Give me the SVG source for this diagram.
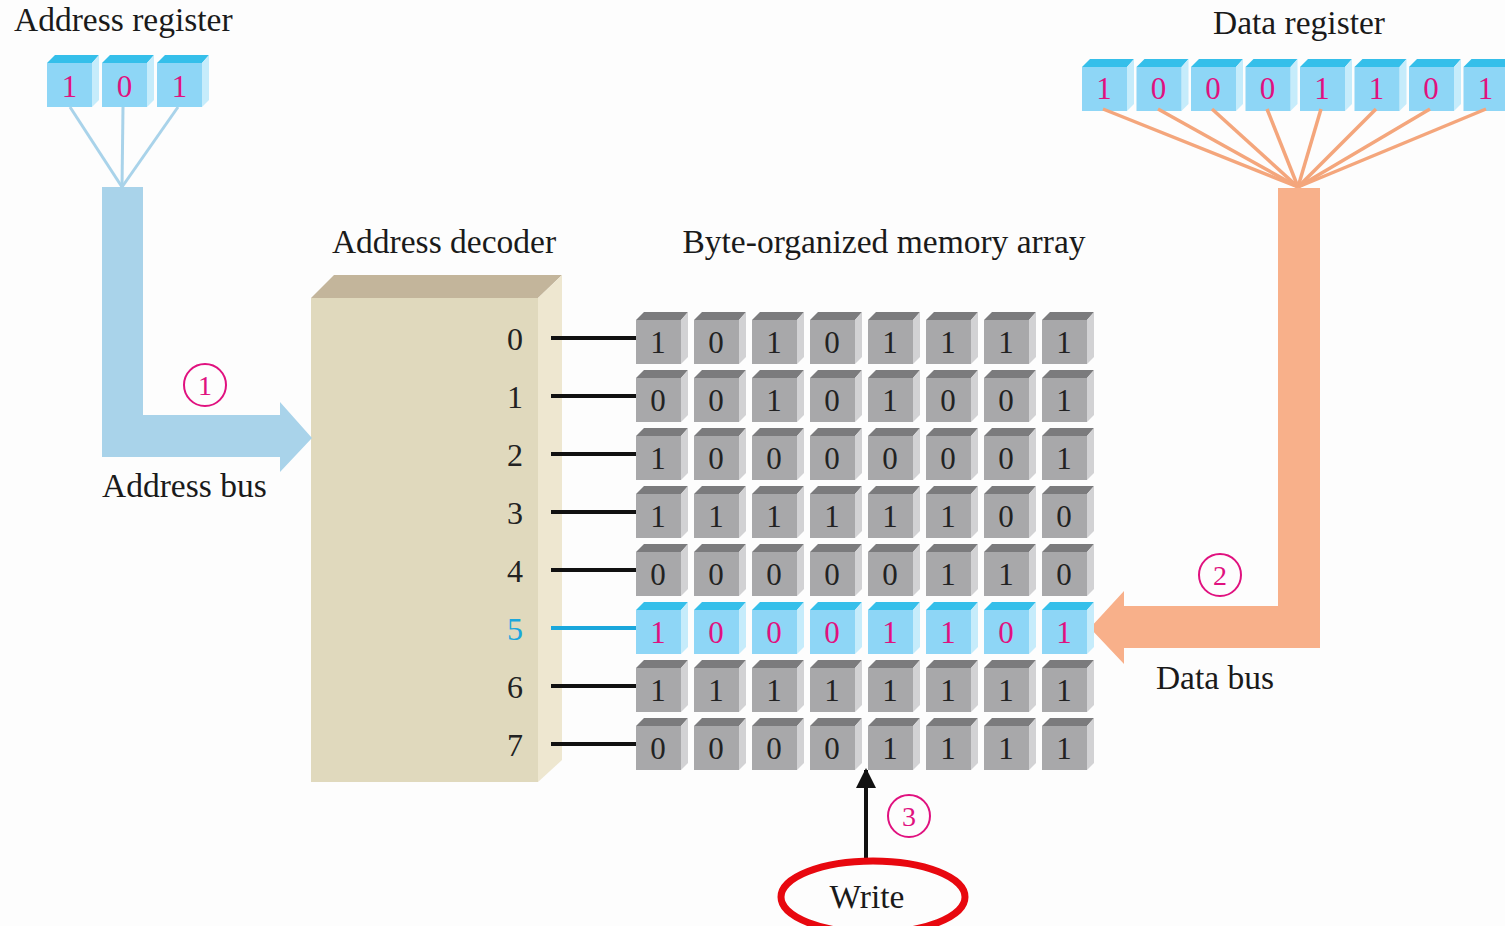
<svg xmlns="http://www.w3.org/2000/svg" xmlns:xlink="http://www.w3.org/1999/xlink" width="1505" height="926" viewBox="0 0 1505 926">
<style>
.t{font-family:"Liberation Serif","Times New Roman",serif;font-size:33.5px;fill:#1a1a1a}
.d{font-family:"Liberation Serif","Times New Roman",serif;font-size:31px;fill:#222;text-anchor:middle}
.m{fill:#e0117f}
.num{font-family:"Liberation Serif","Times New Roman",serif;font-size:28px;fill:#e0117f;text-anchor:middle}
.ring{fill:none;stroke:#e0117f;stroke-width:2}
.wl{stroke:#111;stroke-width:4}
</style>
<defs>
<g id="gc">
<polygon points="0,0 8,-8 52,-8 45,0" fill="#7b7b7d"/>
<polygon points="45,0 52,-8 52,37 45,44" fill="#d2d2d4"/>
<rect x="0" y="0" width="45" height="44" fill="#a8a8aa"/>
</g>
<g id="bc">
<polygon points="0,0 8,-8 52,-8 45,0" fill="#35bfea"/>
<polygon points="45,0 52,-8 52,37 45,44" fill="#c6ecfb"/>
<rect x="0" y="0" width="45" height="44" fill="#8ed6f6"/>
</g>
<marker id="ah" viewBox="0 0 10 10" refX="9" refY="5" markerWidth="5" markerHeight="5" orient="auto"><path d="M0,0 L10,5 L0,10 z" fill="#111"/></marker>
</defs>
<rect width="1505" height="926" fill="#fdfdfd"/>

<g id="address-register">
<text class="t" x="14" y="31">Address register</text>
<use xlink:href="#bc" x="47" y="63"/>
<use xlink:href="#bc" x="102" y="63"/>
<use xlink:href="#bc" x="157" y="63"/>
<text class="d m" x="69.5" y="97">1</text>
<text class="d m" x="124.5" y="97">0</text>
<text class="d m" x="179.5" y="97">1</text>
</g>

<g id="data-register">
<text class="t" x="1299" y="34" text-anchor="middle">Data register</text>
<use xlink:href="#bc" x="1082" y="67"/>
<use xlink:href="#bc" x="1136.5" y="67"/>
<use xlink:href="#bc" x="1191" y="67"/>
<use xlink:href="#bc" x="1245.5" y="67"/>
<use xlink:href="#bc" x="1300" y="67"/>
<use xlink:href="#bc" x="1354.5" y="67"/>
<use xlink:href="#bc" x="1409" y="67"/>
<use xlink:href="#bc" x="1463.5" y="67"/>
<g class="d m">
<text x="1104" y="99">1</text>
<text x="1158.5" y="99">0</text>
<text x="1213" y="99">0</text>
<text x="1267.5" y="99">0</text>
<text x="1322" y="99">1</text>
<text x="1376.5" y="99">1</text>
<text x="1431" y="99">0</text>
<text x="1485.5" y="99">1</text>
</g>
</g>

<g id="address-decoder">
<text class="t" x="444" y="253" text-anchor="middle">Address decoder</text>
<polygon points="311,298 334,275 562,275 538,298" fill="#c3b59b"/>
<polygon points="538,298 562,275 562,760 538,782" fill="#eee7d0"/>
<rect x="311" y="298" width="227" height="484" fill="#e0d9bd"/>
<g class="d" style="font-size:32px">
<text x="515" y="350">0</text>
<text x="515" y="408">1</text>
<text x="515" y="466">2</text>
<text x="515" y="524">3</text>
<text x="515" y="582">4</text>
<text x="515" y="640" fill="#1aa7dc">5</text>
<text x="515" y="698">6</text>
<text x="515" y="756">7</text>
</g>
</g>

<g id="connectors">
<g stroke="#a9d3ea" stroke-width="3">
<line x1="70" y1="107" x2="122" y2="187"/>
<line x1="123" y1="107" x2="122" y2="187"/>
<line x1="178" y1="107" x2="122" y2="187"/>
</g>
<g stroke="#f4a67c" stroke-width="3.5">
<line x1="1103" y1="109" x2="1298" y2="187"/>
<line x1="1158" y1="109" x2="1298" y2="187"/>
<line x1="1212" y1="109" x2="1298" y2="187"/>
<line x1="1267" y1="109" x2="1298" y2="187"/>
<line x1="1321" y1="109" x2="1298" y2="187"/>
<line x1="1376" y1="109" x2="1298" y2="187"/>
<line x1="1430" y1="109" x2="1298" y2="187"/>
<line x1="1486" y1="109" x2="1298" y2="187"/>
</g>
<polygon id="address-bus" points="102,187 143,187 143,415 280,415 280,402 312,438 280,472 280,457 102,457" fill="#a9d3ea"/>
<polygon id="data-bus" points="1278,188 1320,188 1320,648 1124,648 1124,664 1090,628 1124,591 1124,606 1278,606" fill="#f8b08a"/>
<g id="word-lines">
<line class="wl" x1="551" y1="338" x2="636" y2="338"/>
<line class="wl" x1="551" y1="396" x2="636" y2="396"/>
<line class="wl" x1="551" y1="454" x2="636" y2="454"/>
<line class="wl" x1="551" y1="512" x2="636" y2="512"/>
<line class="wl" x1="551" y1="570" x2="636" y2="570"/>
<line x1="551" y1="628" x2="636" y2="628" stroke="#1aa7dc" stroke-width="4"/>
<line class="wl" x1="551" y1="686" x2="636" y2="686"/>
<line class="wl" x1="551" y1="744" x2="636" y2="744"/>
</g>
<line id="write-arrow" x1="866" y1="862" x2="866" y2="770" stroke="#111" stroke-width="4" marker-end="url(#ah)"/>
</g>

<g id="label-address-bus">
<circle class="ring" cx="205" cy="385" r="21"/>
<text class="num" x="205" y="395">1</text>
<text class="t" x="102" y="497">Address bus</text>
</g>

<g id="label-data-bus">
<circle class="ring" cx="1220" cy="575" r="21"/>
<text class="num" x="1220" y="585">2</text>
<text class="t" x="1215" y="689" text-anchor="middle">Data bus</text>
</g>

<g id="memory-array">
<text class="t" x="884" y="253" text-anchor="middle">Byte-organized memory array</text>
<g id="row0" transform="translate(0,320)">
<use xlink:href="#gc" x="636"/><use xlink:href="#gc" x="694"/><use xlink:href="#gc" x="752"/><use xlink:href="#gc" x="810"/><use xlink:href="#gc" x="868"/><use xlink:href="#gc" x="926"/><use xlink:href="#gc" x="984"/><use xlink:href="#gc" x="1042"/>
<g class="d"><text x="658" y="33">1</text><text x="716" y="33">0</text><text x="774" y="33">1</text><text x="832" y="33">0</text><text x="890" y="33">1</text><text x="948" y="33">1</text><text x="1006" y="33">1</text><text x="1064" y="33">1</text></g>
</g>
<g id="row1" transform="translate(0,378)">
<use xlink:href="#gc" x="636"/><use xlink:href="#gc" x="694"/><use xlink:href="#gc" x="752"/><use xlink:href="#gc" x="810"/><use xlink:href="#gc" x="868"/><use xlink:href="#gc" x="926"/><use xlink:href="#gc" x="984"/><use xlink:href="#gc" x="1042"/>
<g class="d"><text x="658" y="33">0</text><text x="716" y="33">0</text><text x="774" y="33">1</text><text x="832" y="33">0</text><text x="890" y="33">1</text><text x="948" y="33">0</text><text x="1006" y="33">0</text><text x="1064" y="33">1</text></g>
</g>
<g id="row2" transform="translate(0,436)">
<use xlink:href="#gc" x="636"/><use xlink:href="#gc" x="694"/><use xlink:href="#gc" x="752"/><use xlink:href="#gc" x="810"/><use xlink:href="#gc" x="868"/><use xlink:href="#gc" x="926"/><use xlink:href="#gc" x="984"/><use xlink:href="#gc" x="1042"/>
<g class="d"><text x="658" y="33">1</text><text x="716" y="33">0</text><text x="774" y="33">0</text><text x="832" y="33">0</text><text x="890" y="33">0</text><text x="948" y="33">0</text><text x="1006" y="33">0</text><text x="1064" y="33">1</text></g>
</g>
<g id="row3" transform="translate(0,494)">
<use xlink:href="#gc" x="636"/><use xlink:href="#gc" x="694"/><use xlink:href="#gc" x="752"/><use xlink:href="#gc" x="810"/><use xlink:href="#gc" x="868"/><use xlink:href="#gc" x="926"/><use xlink:href="#gc" x="984"/><use xlink:href="#gc" x="1042"/>
<g class="d"><text x="658" y="33">1</text><text x="716" y="33">1</text><text x="774" y="33">1</text><text x="832" y="33">1</text><text x="890" y="33">1</text><text x="948" y="33">1</text><text x="1006" y="33">0</text><text x="1064" y="33">0</text></g>
</g>
<g id="row4" transform="translate(0,552)">
<use xlink:href="#gc" x="636"/><use xlink:href="#gc" x="694"/><use xlink:href="#gc" x="752"/><use xlink:href="#gc" x="810"/><use xlink:href="#gc" x="868"/><use xlink:href="#gc" x="926"/><use xlink:href="#gc" x="984"/><use xlink:href="#gc" x="1042"/>
<g class="d"><text x="658" y="33">0</text><text x="716" y="33">0</text><text x="774" y="33">0</text><text x="832" y="33">0</text><text x="890" y="33">0</text><text x="948" y="33">1</text><text x="1006" y="33">1</text><text x="1064" y="33">0</text></g>
</g>
<g id="row5" transform="translate(0,610)">
<use xlink:href="#bc" x="636"/><use xlink:href="#bc" x="694"/><use xlink:href="#bc" x="752"/><use xlink:href="#bc" x="810"/><use xlink:href="#bc" x="868"/><use xlink:href="#bc" x="926"/><use xlink:href="#bc" x="984"/><use xlink:href="#bc" x="1042"/>
<g class="d m"><text x="658" y="33">1</text><text x="716" y="33">0</text><text x="774" y="33">0</text><text x="832" y="33">0</text><text x="890" y="33">1</text><text x="948" y="33">1</text><text x="1006" y="33">0</text><text x="1064" y="33">1</text></g>
</g>
<g id="row6" transform="translate(0,668)">
<use xlink:href="#gc" x="636"/><use xlink:href="#gc" x="694"/><use xlink:href="#gc" x="752"/><use xlink:href="#gc" x="810"/><use xlink:href="#gc" x="868"/><use xlink:href="#gc" x="926"/><use xlink:href="#gc" x="984"/><use xlink:href="#gc" x="1042"/>
<g class="d"><text x="658" y="33">1</text><text x="716" y="33">1</text><text x="774" y="33">1</text><text x="832" y="33">1</text><text x="890" y="33">1</text><text x="948" y="33">1</text><text x="1006" y="33">1</text><text x="1064" y="33">1</text></g>
</g>
<g id="row7" transform="translate(0,726)">
<use xlink:href="#gc" x="636"/><use xlink:href="#gc" x="694"/><use xlink:href="#gc" x="752"/><use xlink:href="#gc" x="810"/><use xlink:href="#gc" x="868"/><use xlink:href="#gc" x="926"/><use xlink:href="#gc" x="984"/><use xlink:href="#gc" x="1042"/>
<g class="d"><text x="658" y="33">0</text><text x="716" y="33">0</text><text x="774" y="33">0</text><text x="832" y="33">0</text><text x="890" y="33">1</text><text x="948" y="33">1</text><text x="1006" y="33">1</text><text x="1064" y="33">1</text></g>
</g>
</g>

<g id="write">
<circle class="ring" cx="909" cy="816" r="21"/>
<text class="num" x="909" y="826">3</text>
<ellipse cx="873" cy="897" rx="92" ry="36" fill="none" stroke="#e8080f" stroke-width="7"/>
<text class="t" x="867" y="908" text-anchor="middle">Write</text>
</g>
</svg>
